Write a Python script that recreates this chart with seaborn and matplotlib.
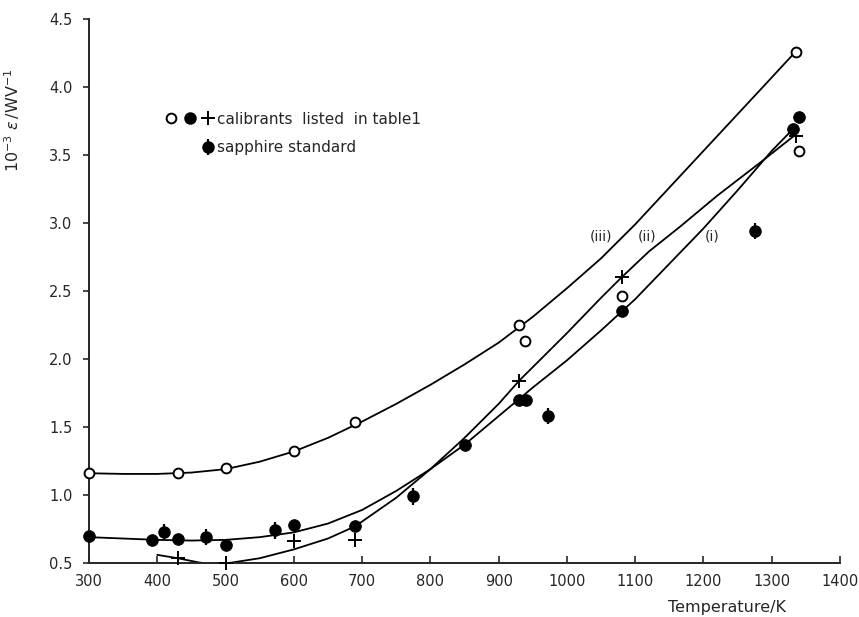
import numpy as np
import pandas as pd
import seaborn as sns
import matplotlib
matplotlib.use("Agg")
import matplotlib.pyplot as plt
from matplotlib.lines import Line2D
from matplotlib.legend_handler import HandlerTuple

### calibrant points
open_T = [300, 430, 500, 600, 690, 930, 938, 1080, 1335, 1340]
open_E = [1.16, 1.16, 1.20, 1.32, 1.54, 2.25, 2.13, 2.46, 4.26, 3.53]

filled_T = [300, 393, 430, 500, 600, 690, 850, 930, 940, 1080, 1331, 1340]
filled_E = [0.70, 0.67, 0.68, 0.63, 0.78, 0.77, 1.37, 1.70, 1.70, 2.35, 3.69, 3.78]

plus_T = [430, 500, 600, 690, 930, 1080, 1335]
plus_E = [0.54, 0.50, 0.66, 0.67, 1.84, 2.60, 3.64]

### sapphire standard
sapph_T = [410, 472, 573, 774, 972, 1275]
sapph_E = [0.73, 0.69, 0.74, 0.99, 1.58, 2.94]
sapph_err = [0.06, 0.06, 0.06, 0.06, 0.06, 0.06]

### hand drawn curves (i), (ii), (iii)
curve_i_T = [300, 350, 400, 450, 500, 550, 600, 650, 700, 750, 800, 850, 900, 950,
             1000, 1050, 1100, 1150, 1200, 1250, 1300, 1331]
curve_i_E = [0.69, 0.68, 0.67, 0.665, 0.67, 0.69, 0.725, 0.79, 0.89, 1.03, 1.19, 1.37, 1.58, 1.79,
             1.99, 2.21, 2.44, 2.70, 2.96, 3.24, 3.53, 3.69]

curve_ii_T = [400, 430, 460, 480, 505, 550, 600, 650, 690, 750, 800, 850, 900, 930,
              1000, 1050, 1080, 1120, 1165, 1220, 1282, 1335]
curve_ii_E = [0.56, 0.535, 0.505, 0.49, 0.50, 0.535, 0.60, 0.68, 0.77, 0.98, 1.19, 1.42, 1.67, 1.84,
              2.19, 2.45, 2.60, 2.79, 2.97, 3.20, 3.44, 3.65]

curve_iii_T = [300, 350, 400, 450, 500, 550, 600, 650, 700, 750, 800, 850, 900, 950,
               1000, 1050, 1100, 1150, 1200, 1250, 1300, 1335]
curve_iii_E = [1.16, 1.155, 1.155, 1.165, 1.19, 1.245, 1.32, 1.42, 1.54, 1.67, 1.81, 1.96, 2.12, 2.31,
               2.52, 2.74, 2.99, 3.26, 3.53, 3.80, 4.07, 4.26]

curve_names = ["(i)", "(ii)", "(iii)"]
label_T = [1212, 1118, 1050]
label_E = [2.90, 2.90, 2.90]

sns.set_style("ticks")
plt.rcParams['font.family'] = ['DejaVu Sans']

fig = plt.figure(figsize=(8.59, 6.17), dpi=100)
ax = fig.add_axes([89/859, 1-563/617, 751/859, 544/617])

for T, E in [(curve_i_T, curve_i_E), (curve_ii_T, curve_ii_E), (curve_iii_T, curve_iii_E)]:
    df = pd.DataFrame({'T': T, 'E': E})
    sns.lineplot(x='T', y='E', data=df, sort=False, estimator=None, color='black', lw=1.3, ax=ax)

sns.scatterplot(x=open_T, y=open_E, marker='o', s=50, facecolor='white', edgecolor='black',
                linewidth=1.4, ax=ax, zorder=5, clip_on=False)
sns.scatterplot(x=filled_T, y=filled_E, marker='o', s=70, color='black', edgecolor='black',
                ax=ax, zorder=5, clip_on=False)
sns.scatterplot(x=plus_T, y=plus_E, marker='+', s=110, color='black', linewidth=1.4,
                ax=ax, zorder=5, clip_on=False)
err = ax.errorbar(sapph_T, sapph_E, yerr=sapph_err, fmt='o', ms=8, color='black',
                  ecolor='black', elinewidth=1.6, capsize=0, zorder=5)

for name, t, e in zip(curve_names, label_T, label_E):
    ax.text(t, e, name, ha='center', va='center', fontsize=10)

ax.set_xlim(300, 1400)
ax.set_ylim(0.5, 4.5)
ax.set_xticks(np.arange(300, 1401, 100))
ax.set_yticks(np.arange(0.5, 4.51, 0.5))
ax.set_yticklabels(['0.5', '1.0', '1.5', '2.0', '2.5', '3.0', '3.5', '4.0', '4.5'])
ax.tick_params(axis='x', direction='in', length=5, width=1.2, labelsize=10.5, pad=8)
ax.tick_params(axis='y', direction='out', length=4, width=1.2, labelsize=10.5, pad=8)
for s in ['left', 'bottom']:
    ax.spines[s].set_linewidth(1.4)
sns.despine(ax=ax)

ax.set_xlabel("Temperature/K", fontsize=11.5, va='center')
ax.xaxis.set_label_coords(0.85, -0.081)
ax.set_ylabel(r"$10^{-3}\ \varepsilon\,/\mathrm{WV}^{-1}$", fontsize=11.5)
ax.yaxis.set_label_coords(-0.089, 0.814)

h_open = Line2D([], [], marker='o', ls='none', mfc='white', mec='black', mew=1.4, ms=7)
h_fill = Line2D([], [], marker='o', ls='none', color='black', ms=8)
h_plus = Line2D([], [], marker='+', ls='none', color='black', mew=1.4, ms=10)
h_blank = Line2D([], [], ls='none')
ax.legend(handles=[(h_open, h_fill, h_plus), (h_blank, h_blank, err)],
          labels=["calibrants  listed  in table1", "sapphire standard"],
          handler_map={tuple: HandlerTuple(ndivide=None, pad=0.6)},
          loc='upper left', bbox_to_anchor=(0.085, 0.855), frameon=False,
          fontsize=11, handlelength=3.0, handletextpad=0.3, labelspacing=0.9)

fig.savefig("out.png", dpi=100)
